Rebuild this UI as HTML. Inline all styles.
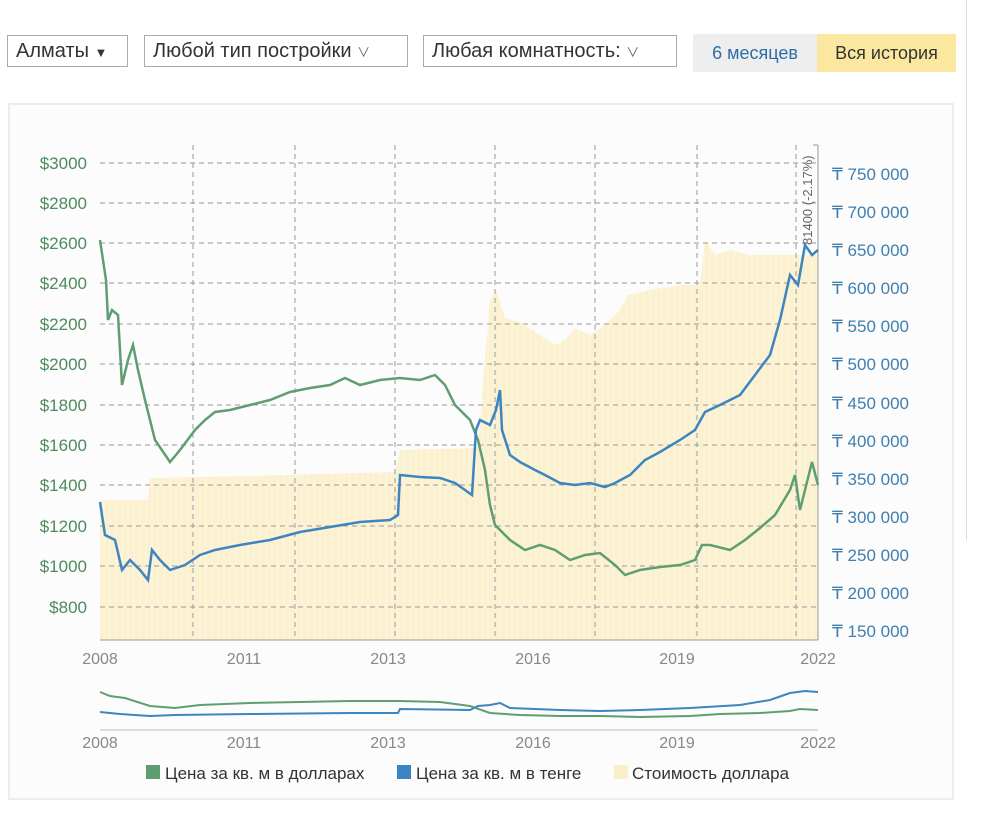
<!DOCTYPE html>
<html><head><meta charset="utf-8"><style>
body{margin:0;width:1000px;height:823px;background:#fff;font-family:"Liberation Sans","Noto Sans CJK SC",sans-serif;position:relative;overflow:hidden}
.sel{position:absolute;top:35px;height:32px;border:1px solid #aaa;box-sizing:border-box;font-size:20px;color:#333;line-height:30px;padding-left:8px;background:#fff;white-space:nowrap;overflow:hidden}
</style></head><body>
<div class="sel" style="left:7px;width:121px">Алматы <span style="font-size:13px">▼</span></div>
<div class="sel" style="left:144px;width:264px">Любой тип постройки <span style="font-size:13px;color:#666">&#8744;</span></div>
<div class="sel" style="left:423px;width:254px">Любая комнатность: <span style="font-size:13px;color:#666">&#8744;</span></div>
<div style="position:absolute;left:693px;top:34px;width:124px;height:38px;background:#eee;color:#2d6da6;font-size:18px;line-height:38px;text-align:center">6 месяцев</div>
<div style="position:absolute;left:817px;top:34px;width:139px;height:38px;background:#fbe7a0;color:#333;font-size:18px;line-height:38px;text-align:center">Вся история</div>
<div style="position:absolute;left:966px;top:0;width:1px;height:540px;background:#ddd"></div>
<div style="position:absolute;left:8px;top:103px;width:946px;height:697px;border:2px solid #ececec;box-sizing:border-box;background:#fcfcfc"></div>
<svg style="position:absolute;left:0;top:0" width="1000" height="823" font-family="Liberation Sans, sans-serif">
<polygon fill="#fbefc9" opacity="0.9" points="100,640 100,500 148,500 150,478 250,476 395,472 400,450 478,448 484,370 490,300 496,290 505,318 520,322 540,335 555,345 565,340 575,328 590,335 605,325 620,310 628,295 650,290 680,285 700,285 705,240 715,255 730,250 750,255 790,255 818,255 818,640"/>
<g stroke="#fff" stroke-width="1" opacity="0.5"><path d="M104 240V640M110 240V640M116 240V640M122 240V640M128 240V640M134 240V640M140 240V640M146 240V640M152 240V640M158 240V640M164 240V640M170 240V640M176 240V640M182 240V640M188 240V640M194 240V640M200 240V640M206 240V640M212 240V640M218 240V640M224 240V640M230 240V640M236 240V640M242 240V640M248 240V640M254 240V640M260 240V640M266 240V640M272 240V640M278 240V640M284 240V640M290 240V640M296 240V640M302 240V640M308 240V640M314 240V640M320 240V640M326 240V640M332 240V640M338 240V640M344 240V640M350 240V640M356 240V640M362 240V640M368 240V640M374 240V640M380 240V640M386 240V640M392 240V640M398 240V640M404 240V640M410 240V640M416 240V640M422 240V640M428 240V640M434 240V640M440 240V640M446 240V640M452 240V640M458 240V640M464 240V640M470 240V640M476 240V640M482 240V640M488 240V640M494 240V640M500 240V640M506 240V640M512 240V640M518 240V640M524 240V640M530 240V640M536 240V640M542 240V640M548 240V640M554 240V640M560 240V640M566 240V640M572 240V640M578 240V640M584 240V640M590 240V640M596 240V640M602 240V640M608 240V640M614 240V640M620 240V640M626 240V640M632 240V640M638 240V640M644 240V640M650 240V640M656 240V640M662 240V640M668 240V640M674 240V640M680 240V640M686 240V640M692 240V640M698 240V640M704 240V640M710 240V640M716 240V640M722 240V640M728 240V640M734 240V640M740 240V640M746 240V640M752 240V640M758 240V640M764 240V640M770 240V640M776 240V640M782 240V640M788 240V640M794 240V640M800 240V640M806 240V640M812 240V640"/></g>
<g stroke="#999" stroke-dasharray="5,4" stroke-width="1">
<path d="M100 163H818M100 203H818M100 243H818M100 283H818M100 324H818M100 364H818M100 405H818M100 445H818M100 485H818M100 526H818M100 566H818M100 607H818"/>
<path d="M193 145V640M295 145V640M395 145V640M495 145V640M595 145V640M697 145V640M796 145V640"/>
</g>
<path d="M100 640H818M818 145V640M813 145H818" stroke="#999" fill="none"/>
<polyline fill="none" stroke="#5e9e72" stroke-width="2.5" points="100,240 106,280 108,320 112,310 118,315 122,385 128,360 133,345 138,370 145,400 155,440 170,462 180,450 195,430 205,420 215,412 230,410 250,405 270,400 290,392 310,388 330,385 345,378 360,385 380,380 400,378 420,380 435,375 445,385 455,405 470,420 478,440 485,470 490,505 495,525 510,540 525,550 540,545 555,550 570,560 585,555 600,553 615,565 625,575 640,570 660,567 680,565 695,560 702,545 710,545 730,550 745,540 760,528 775,515 790,490 795,475 800,510 805,490 812,462 818,485"/>
<polyline fill="none" stroke="#3d85c0" stroke-width="2.5" points="100,502 105,535 115,540 122,570 130,560 140,570 148,580 152,550 160,560 170,570 185,565 200,555 215,550 240,545 270,540 300,532 330,527 360,522 390,520 398,515 400,475 420,477 440,478 455,483 465,490 472,495 476,430 480,420 490,425 496,410 500,390 502,430 510,455 520,462 535,470 545,475 560,483 575,485 590,483 605,487 615,483 630,475 645,460 660,452 680,440 695,430 705,412 720,405 740,395 755,375 770,355 780,320 790,275 798,285 805,245 812,255 818,250"/>
<text transform="translate(812,245) rotate(-90)" font-size="13" fill="#666">81400 (-2.17%)</text>
<g font-size="17" fill="#4d8a5c" text-anchor="end">
<text x="87" y="169">$3000</text><text x="87" y="209">$2800</text><text x="87" y="249">$2600</text><text x="87" y="289">$2400</text><text x="87" y="330">$2200</text><text x="87" y="370">$2000</text><text x="87" y="411">$1800</text><text x="87" y="451">$1600</text><text x="87" y="491">$1400</text><text x="87" y="532">$1200</text><text x="87" y="572">$1000</text><text x="87" y="613">$800</text>
</g>
<g font-size="17" fill="#3f7fb0">
<text x="832" y="180">₸ 750 000</text><text x="832" y="218">₸ 700 000</text><text x="832" y="256">₸ 650 000</text><text x="832" y="294">₸ 600 000</text><text x="832" y="332">₸ 550 000</text><text x="832" y="370">₸ 500 000</text><text x="832" y="409">₸ 450 000</text><text x="832" y="447">₸ 400 000</text><text x="832" y="485">₸ 350 000</text><text x="832" y="523">₸ 300 000</text><text x="832" y="561">₸ 250 000</text><text x="832" y="599">₸ 200 000</text><text x="832" y="637">₸ 150 000</text>
</g>
<g font-size="16" fill="#888" text-anchor="middle">
<text x="100" y="664">2008</text><text x="244" y="664">2011</text><text x="388" y="664">2013</text><text x="533" y="664">2016</text><text x="677" y="664">2019</text><text x="818" y="664">2022</text>
<text x="100" y="748">2008</text><text x="244" y="748">2011</text><text x="388" y="748">2013</text><text x="533" y="748">2016</text><text x="677" y="748">2019</text><text x="818" y="748">2022</text>
</g>
<path d="M100 730H818" stroke="#bbb"/>
<polyline fill="none" stroke="#5e9e72" stroke-width="2" points="100,692 110,696 125,698 150,706 175,708 200,705 250,703 300,702 350,701 400,701 440,702 470,706 490,713 520,715 560,716 600,716 640,717 690,716 720,714 760,713 790,711 800,709 818,710"/>
<polyline fill="none" stroke="#3d85c0" stroke-width="2" points="100,712 120,714 150,716 175,715 250,714 350,713 398,713 400,709 470,710 478,706 490,705 500,703 510,708 560,710 600,711 640,710 690,708 740,705 770,700 790,693 805,691 818,692"/>
<rect x="146" y="765" width="14" height="14" fill="#5e9e72"/><text x="165" y="779" font-size="17" fill="#333">Цена за кв. м в долларах</text>
<rect x="397" y="765" width="14" height="14" fill="#3d85c0"/><text x="416" y="779" font-size="17" fill="#333">Цена за кв. м в тенге</text>
<rect x="614" y="765" width="14" height="14" fill="#fbefc9"/><text x="632" y="779" font-size="17" fill="#333">Стоимость доллара</text>
</svg>
</body></html>
